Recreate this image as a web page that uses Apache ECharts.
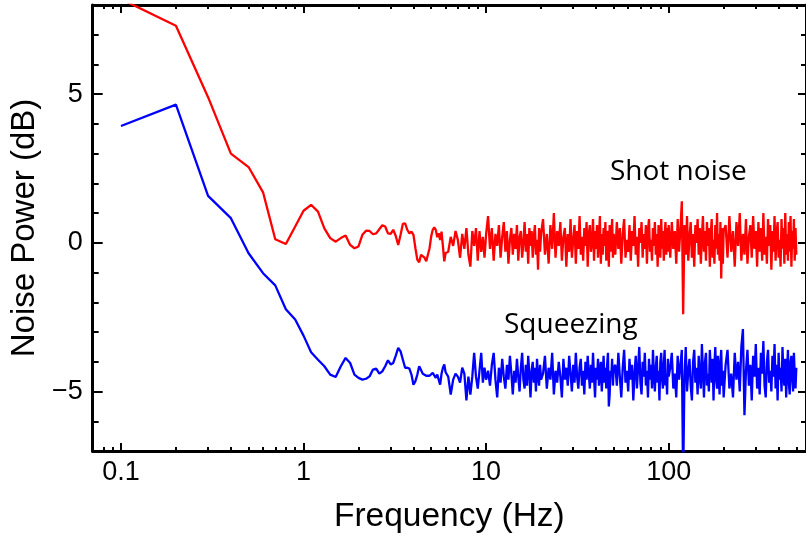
<!DOCTYPE html>
<html><head><meta charset="utf-8">
<script src="https://cdn.jsdelivr.net/npm/echarts@6/dist/echarts.min.js"></script>
<style>html,body{margin:0;padding:0;background:#fff}#c{width:806px;height:539px}</style>
</head><body><div id="c"></div>
<script>
// ---- Data (frequency in Hz, noise power in dB) ----
// Low-frequency part: 0.1 Hz to 6.0 Hz, 0.1 Hz spacing
const lowStart = 0.1, lowStep = 0.1;
const shotLow = [8.2,7.3,4.9,3.0,2.55,1.7,0.12,-0.04,0.55,1.08,
  1.28,1.05,0.49,0.16,0.04,0.16,0.25,-0.07,-0.18,-0.12,
  0.27,0.41,0.4,0.29,0.32,0.46,0.59,0.55,0.32,0.3,
  0.44,0.23,-0.07,0.27,0.64,0.66,0.44,0.32,0.38,0.27,
  -0.18,-0.57,-0.65,-0.4,-0.34,-0.5,-0.62,-0.57,-0.18,0.21,
  0.44,0.52,0.44,0.19,0.32,0.1,0.38,-0.12,-0.62,-0.34];
const sqzLow = [3.93,4.65,1.58,0.83,-0.35,-1.02,-1.43,-2.23,-2.58,-3.12,
  -3.68,-3.93,-4.15,-4.43,-4.51,-4.15,-3.87,-4.04,-4.43,-4.54,
  -4.6,-4.57,-4.49,-4.26,-4.23,-4.4,-4.32,-4.15,-3.95,-4.09,
  -4.04,-3.79,-3.53,-3.65,-3.93,-4.2,-4.2,-4.23,-4.43,-4.77,
  -4.65,-4.43,-4.15,-4.2,-4.4,-4.4,-4.47,-4.51,-4.47,-4.49,
  -4.37,-4.4,-4.54,-4.43,-4.49,-4.77,-4.4,-4.2,-4.09,-4.35];

// Higher-frequency parts, each with its own start and spacing
const segStart = [6.2, 10.25, 20.5, 51, 102, 205];
const segStep  = [0.2, 0.25, 0.5, 1, 2, 5];

const shotSeg = [
 [-0.3,0.2,-0.1,0.4,0.1,-0.5,0.3,-0.2,0.5,-0.4,-0.8,0.4,-0.1,0.5,-0.6,0.4,-0.3,0.2,-0.5,0.3],
 [0.9,-0.2,0.5,-0.6,0.3,-0.1,0.6,-0.5,0.2,0.7,-0.3,0.4,-0.7,0.1,0.5,-0.4,0.3,-0.2,0.6,-0.6,
  0.2,0.4,-0.5,0.0,0.7,-0.3,0.3,-0.7,0.5,-0.1,0.4,-0.5,0.2,0.6,-0.4,0.1,-0.9,0.5,-0.3,0.3],
 [0.8,-0.4,0.3,-0.7,0.6,-0.2,1.0,-0.5,0.4,-0.1,0.7,-0.6,0.2,0.5,-0.8,0.3,-0.3,0.8,-0.5,0.1,
  0.6,-0.7,0.4,-0.2,0.9,-0.4,0.2,-0.6,0.5,-0.1,0.7,-0.8,0.3,0.6,-0.3,0.0,0.8,-0.6,0.4,-0.2,
  0.6,-0.5,0.2,0.9,-0.7,0.3,-0.4,0.5,-0.1,0.7,-0.6,0.2,0.4,-0.8,0.6,-0.3,0.1,0.8,-0.5,0.3],
 [-0.4,0.7,-0.2,0.5,-0.7,0.3,0.8,-0.5,0.1,-0.3,0.6,-0.6,0.4,-0.1,0.9,-0.4,0.2,-0.8,0.5,0.0,
  0.7,-0.5,0.3,-0.2,0.6,-0.7,0.4,0.8,-0.3,0.1,-0.6,0.5,-0.1,0.7,-0.4,0.3,-0.8,0.6,0.1,-0.5,
  0.8,-0.2,0.4,-0.6,0.2,0.7,-0.4,0.5,-0.3,0.6],
 [-0.5,0.7,-0.2,0.4,-0.7,0.8,-0.3,0.5,1.4,-2.4,0.6,-0.4,0.9,-0.6,0.2,0.7,-0.5,0.3,-0.8,0.6,
  0.0,0.8,-0.4,0.5,-0.7,0.2,0.9,-0.3,0.4,-0.6,0.7,-0.1,0.5,-0.8,0.3,0.8,-0.5,0.1,-0.7,0.6,
  -0.2,1.0,-0.4,0.3,-0.6,0.7,-1.2,0.5,-0.7,0.4],
 [0.6,-0.5,0.9,-0.3,0.4,-0.8,0.7,-0.1,1.0,-0.6,0.3,-0.4,0.8,-0.7,0.2,0.6,-0.5,0.9,-0.2,0.4,
  -0.8,0.7,-0.3,0.5,-0.6,1.0,-0.4,0.2,-0.7,0.8,-0.1,0.6,-0.9,0.4,-0.3,0.9,-0.6,0.3,0.7,-0.5,
  0.1,-0.8,0.8,-0.2,0.5,-0.7,1.0,-0.4,0.3,-0.6,0.7,-0.3,0.9,-0.8,0.4,-0.2,0.8,-0.6,0.5,-0.4]
];
const sqzSeg = [
 [-4.5,-5.1,-4.6,-4.4,-4.5,-4.7,-4.2,-4.4,-5.3,-4.5,-5.1,-4.5,-3.7,-4.5,-4.9,-4.3,-3.7,-4.7,-4.2,-4.6],
 [-4.3,-4.8,-4.1,-3.7,-4.6,-5.2,-4.2,-4.7,-3.9,-4.5,-4.9,-4.1,-4.6,-3.8,-4.4,-5.1,-4.3,-4.7,-3.9,-4.5,
  -5.0,-4.2,-3.7,-4.6,-4.9,-4.1,-4.8,-3.8,-4.4,-5.2,-4.3,-4.0,-4.7,-4.2,-5.0,-3.9,-4.5,-4.8,-4.1,-4.6],
 [-4.4,-3.8,-4.9,-4.2,-4.6,-3.7,-5.1,-4.3,-4.7,-4.0,-4.5,-5.2,-3.9,-4.6,-4.2,-4.8,-3.8,-4.4,-5.0,-4.1,
  -4.7,-3.7,-4.5,-4.9,-4.2,-3.9,-4.8,-4.3,-5.1,-4.0,-4.6,-3.8,-4.4,-4.9,-4.1,-4.7,-3.7,-4.5,-5.2,-4.2,
  -4.6,-3.9,-4.8,-4.3,-4.0,-5.0,-4.4,-3.8,-4.7,-4.2,-4.9,-4.1,-3.7,-5.5,-5.1,-4.3,-4.5,-3.9,-4.8,-4.2],
 [-4.1,-4.8,-3.7,-4.5,-5.2,-4.2,-3.6,-4.7,-4.3,-5.0,-3.9,-4.6,-4.1,-5.3,-4.4,-3.8,-4.9,-4.2,-3.5,-4.7,
  -5.1,-4.0,-4.5,-3.7,-4.8,-4.3,-5.2,-3.9,-4.6,-4.1,-4.9,-3.6,-4.4,-5.0,-4.2,-3.8,-4.7,-4.3,-5.3,-4.0,
  -3.7,-4.6,-4.9,-4.1,-3.6,-4.8,-4.4,-5.1,-3.9,-4.5],
 [-4.2,-3.7,-4.9,-4.4,-5.2,-3.8,-4.6,-4.1,-3.6,-8.0,-4.5,-3.5,-5.0,-4.3,-3.9,-4.8,-5.3,-4.0,-3.6,-4.7,
  -4.2,-5.1,-3.8,-4.5,-4.9,-3.4,-4.3,-5.2,-4.0,-3.7,-4.8,-4.4,-5.0,-3.6,-4.2,-4.7,-3.9,-5.3,-4.1,-3.5,
  -4.6,-4.9,-3.8,-4.4,-5.1,-4.0,-3.6,-4.8,-4.3,-5.2],
 [-4.1,-3.6,-4.9,-4.4,-5.2,-3.7,-4.6,-4.0,-5.0,-3.5,-2.9,-5.8,-4.3,-3.6,-4.8,-4.1,-5.3,-3.8,-4.5,-3.4,
  -4.9,-4.2,-5.1,-3.7,-4.4,-3.3,-4.8,-5.2,-4.0,-3.6,-4.7,-4.3,-5.0,-3.8,-4.5,-3.4,-4.9,-4.1,-5.3,-3.7,
  -4.6,-4.2,-5.0,-3.5,-4.4,-4.8,-3.9,-5.2,-4.3,-3.6,-4.7,-5.1,-4.0,-3.8,-4.6,-5.0,-3.7,-4.4,-4.9,-4.2]
];

const xMajor = [0.1, 1, 10, 100];
const xMinor = [0.08,0.09,0.2,0.3,0.4,0.5,0.6,0.7,0.8,0.9,2,3,4,5,6,7,8,9,20,30,40,50,60,70,80,90,200,300,400,500];
const yMajor = [-5, 0, 5];
const yMinor = [-6,-4,-3,-2,-1,1,2,3,4,6,7];
const xName = 'Frequency (Hz)';
const yName = 'Noise Power (dB)';
const labelShot = 'Shot noise';
const labelSqz = 'Squeezing';

// ---- Build series data ----
function seg(start, step, vals) {
  return vals.map((v, i) => [+(start + i * step).toFixed(3), v]);
}
function buildAll(low, segs) {
  let out = seg(lowStart, lowStep, low);
  segs.forEach((vals, k) => { out = out.concat(seg(segStart[k], segStep[k], vals)); });
  return out;
}
const shotData = buildAll(shotLow, shotSeg);
const sqzData = buildAll(sqzLow, sqzSeg);

const FONT = 'Liberation Sans';
const XMIN = 0.07, XMAX = 565;
function xAx(pos, ticks, len, line, labels, extra) {
  return Object.assign({
    type: 'log', logBase: 10, position: pos, min: XMIN, max: XMAX,
    axisLine: { show: line, onZero: false, lineStyle: { color: '#000', width: 3 } },
    axisTick: { show: true, inside: true, length: len, customValues: ticks, lineStyle: { color: '#000', width: 2 } },
    axisLabel: labels ? {
      show: true, customValues: xMajor, margin: 8,
      formatter: v => String(+(+v).toPrecision(3)),
      fontSize: 27, fontFamily: FONT, color: '#000'
    } : { show: false },
    splitLine: { show: false }, minorTick: { show: false }
  }, extra || {});
}
function yAx(pos, ticks, len, line, labels, extra) {
  return Object.assign({
    type: 'value', position: pos, min: -7, max: 8,
    axisLine: { show: line, onZero: false, lineStyle: { color: '#000', width: 3 } },
    axisTick: { show: true, inside: true, length: len, customValues: ticks, lineStyle: { color: '#000', width: 2 } },
    axisLabel: labels ? {
      show: true, customValues: yMajor, margin: 10,
      formatter: v => (v < 0 ? '\u2212' + Math.abs(v) : String(v)),
      fontSize: 27, fontFamily: FONT, color: '#000'
    } : { show: false },
    splitLine: { show: false }
  }, extra || {});
}

const chart = echarts.init(document.getElementById('c'), null, { renderer: 'canvas' });
chart.setOption({
  animation: false,
  backgroundColor: '#fff',
  grid: { left: 91, right: -2, top: 5, bottom: 88, containLabel: false },
  xAxis: [
    xAx('bottom', xMajor, 8, true, true, {
      name: xName, nameLocation: 'middle', nameGap: 49,
      nameTextStyle: { fontSize: 33.5, fontFamily: FONT, color: '#000' }
    }),
    xAx('bottom', xMinor, 4, false, false),
    xAx('top', xMajor, 8, true, false),
    xAx('top', xMinor, 4, false, false)
  ],
  yAxis: [
    yAx('left', yMajor, 10, true, true, {
      name: yName, nameLocation: 'middle', nameGap: 37,
      nameTextStyle: { fontSize: 33, fontFamily: FONT, color: '#000' }
    }),
    yAx('left', yMinor, 6, false, false),
    yAx('right', yMajor, 8, true, false),
    yAx('right', yMinor, 5, false, false)
  ],
  series: [
    { name: labelShot, type: 'line', xAxisIndex: 0, yAxisIndex: 0, data: shotData,
      showSymbol: false, symbol: 'none', clip: true,
      lineStyle: { color: '#ff0000', width: 2.3 }, z: 3 },
    { name: labelSqz, type: 'line', xAxisIndex: 0, yAxisIndex: 0, data: sqzData,
      showSymbol: false, symbol: 'none', clip: true,
      lineStyle: { color: '#0000ff', width: 2.3 }, z: 3 }
  ],
  graphic: [
    { type: 'text', left: 610, top: 158, style: { text: labelShot, font: '28px "Open Sans"', fill: '#000' } },
    { type: 'text', left: 504, top: 311, style: { text: labelSqz, font: '28px "Open Sans"', fill: '#000' } }
  ]
});
</script>
</body></html>
